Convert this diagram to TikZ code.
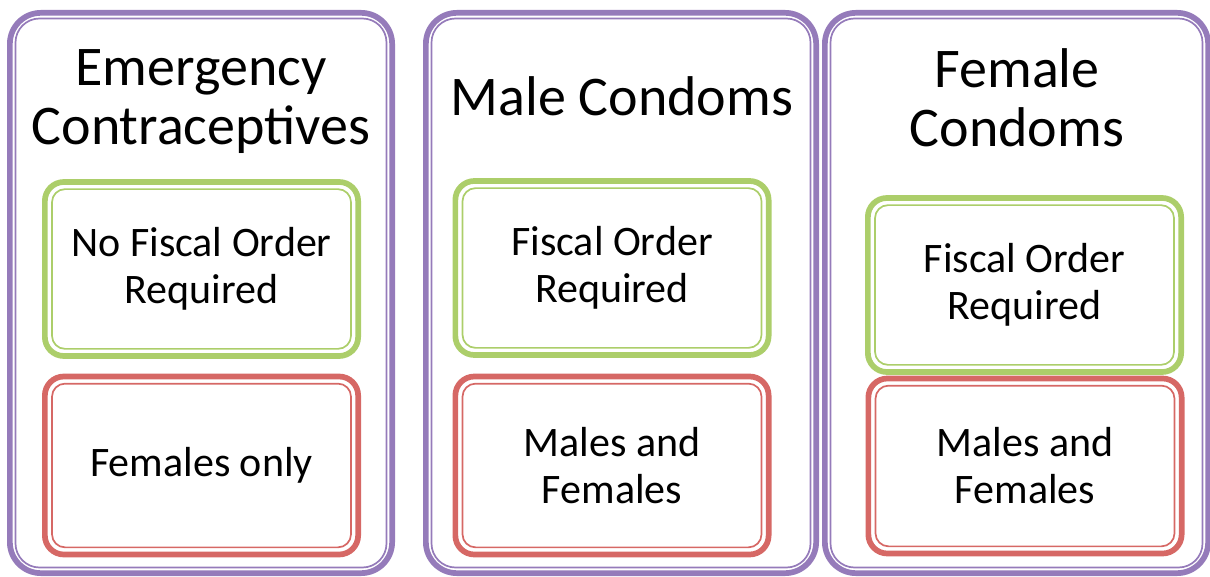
\documentclass[tikz,border=0pt]{standalone}
\usepackage{fontspec}
\setmainfont{Carlito}
\usetikzlibrary{calc}
\definecolor{panelpurple}{RGB}{149,123,186}
\definecolor{boxgreen}{RGB}{172,206,106}
\definecolor{boxred}{RGB}{214,104,101}
\tikzset{
	panel/.style={draw=panelpurple, line width=5.7pt, rounded corners=31pt, inner sep=0pt, minimum height=560.3pt},
	infobox/.style={line width=5.7pt, rounded corners=19pt, inner sep=0pt, minimum height=174pt, minimum width=313.3pt,
		font=\fontsize{42}{47}\selectfont, align=center},
	titletext/.style={font=\fontsize{56}{59}\selectfont, align=center, inner sep=0pt},
	thinline/.style={line width=1.7pt, rounded corners=#1},
	thinline/.default=13pt,
}
\begin{document}
\begin{tikzpicture}[x=1pt, y=1pt, line join=round]
	\useasboundingbox (0,0) rectangle (1210,-577);
	% Panels
	\node[panel, minimum width=382.3pt] (ecpanel) at (201,-293) {};
	\node[panel, minimum width=390.3pt] (mcpanel) at (621,-293) {};
	\node[panel, minimum width=383.3pt] (fcpanel) at (1016.5,-293) {};
	\draw[thinline=24pt, panelpurple] ($(ecpanel.north west)+(8.5,-8.5)$) rectangle ($(ecpanel.south east)+(-8.5,8.5)$);
	\draw[thinline=24pt, panelpurple] ($(mcpanel.north west)+(8.5,-8.5)$) rectangle ($(mcpanel.south east)+(-8.5,8.5)$);
	\draw[thinline=24pt, panelpurple] ($(fcpanel.north west)+(8.5,-8.5)$) rectangle ($(fcpanel.south east)+(-8.5,8.5)$);
	% Titles
	\node[titletext] (ectitle) at (201,-102) {Emergency\\Contraceptives};
	\node[titletext] (mctitle) at (622,-96.5) {Male Condoms};
	\node[titletext] (fctitle) at (1017,-98) {Female\\Condoms};
	% Inner boxes
	\node[infobox, draw=boxgreen] (ecorder) at (201.5,-269) {No Fiscal Order\\Required};
	\node[infobox, draw=boxred, minimum height=178pt] (ecusers) at (201.5,-465.5) {Females only};
	\node[infobox, draw=boxgreen] (mcorder) at (612,-268) {Fiscal Order\\Required};
	\node[infobox, draw=boxred, minimum height=178pt] (mcusers) at (612,-465.5) {Males and\\Females};
	\node[infobox, draw=boxgreen] (fcorder) at (1024.5,-285) {Fiscal Order\\Required};
	\node[infobox, draw=boxred, minimum height=175pt] (fcusers) at (1025,-466) {Males and\\Females};
	\draw[thinline, boxgreen] ($(ecorder.north west)+(10,-10)$) rectangle ($(ecorder.south east)+(-10,10)$);
	\draw[thinline, boxred] ($(ecusers.north west)+(10,-10)$) rectangle ($(ecusers.south east)+(-10,10)$);
	\draw[thinline, boxgreen] ($(mcorder.north west)+(10,-10)$) rectangle ($(mcorder.south east)+(-10,10)$);
	\draw[thinline, boxred] ($(mcusers.north west)+(10,-10)$) rectangle ($(mcusers.south east)+(-10,10)$);
	\draw[thinline, boxgreen] ($(fcorder.north west)+(10,-10)$) rectangle ($(fcorder.south east)+(-10,10)$);
	\draw[thinline, boxred] ($(fcusers.north west)+(10,-10)$) rectangle ($(fcusers.south east)+(-10,10)$);
\end{tikzpicture}
\end{document}
